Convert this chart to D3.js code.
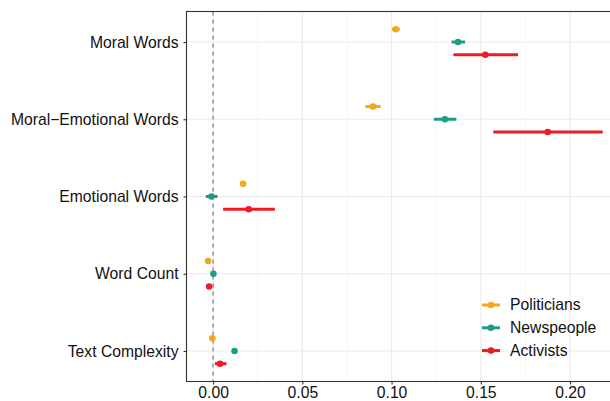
<!DOCTYPE html>
<html><head><meta charset="utf-8">
<script src="https://cdn.jsdelivr.net/npm/d3@7"></script>
<style>body{margin:0;background:#fff}svg{display:block}text{font-family:"Liberation Sans",Arial,Helvetica,sans-serif}</style>
</head><body><svg id="c" width="610" height="401"></svg>
<script>
const categories = ["Moral Words","Moral\u2212Emotional Words","Emotional Words","Word Count","Text Complexity"];
const groups = ["Politicians","Newspeople","Activists"];
const colors = ["#F2A81D","#1A9E86","#EE1C25"];
const xTicks = [0,0.05,0.10,0.15,0.20];
// estimates per category: [politicians, newspeople, activists]
const estPoliticians = [0.1024, 0.0896, 0.0168, -0.0028, -0.0004];
const loPoliticians  = [0.1002, 0.0853, 0.0152, -0.0034, -0.0010];
const hiPoliticians  = [0.1046, 0.0939, 0.0185, -0.0022, 0.0002];
const estNewspeople  = [0.1372, 0.1299, -0.0009, 0.0002, 0.0120];
const loNewspeople   = [0.1336, 0.1237, -0.0041, -0.0004, 0.0114];
const hiNewspeople   = [0.1412, 0.1363, 0.0025, 0.0008, 0.0126];
const estActivists   = [0.1525, 0.1875, 0.0200, -0.0022, 0.0039];
const loActivists    = [0.1346, 0.1570, 0.0056, -0.0030, 0.0010];
const hiActivists    = [0.1709, 0.2183, 0.0346, -0.0014, 0.0075];

const series = [
  {name: groups[0], color: colors[0], est: estPoliticians, lo: loPoliticians, hi: hiPoliticians, off: -1},
  {name: groups[1], color: colors[1], est: estNewspeople, lo: loNewspeople, hi: hiNewspeople, off: 0},
  {name: groups[2], color: colors[2], est: estActivists, lo: loActivists, hi: hiActivists, off: 1}
];

const FS = "15.7px";
const svg = d3.select("#c");
const L = 186.5, T = 11.5, R = 612, B = 381.5;
const x = d3.scaleLinear().domain([-0.0149, 0.2235]).range([L, R]);
const y = d3.scalePoint().domain(categories).range([T, B]).padding(0.395);
const dodge = 12.7;

// grid
const g = svg.append("g");
const minor = [0.025,0.075,0.125,0.175,-0.025,0.225].filter(v => x(v) > L && x(v) < R);
g.selectAll(".mg").data(minor).join("line")
  .attr("x1", d => x(d)).attr("x2", d => x(d)).attr("y1", T).attr("y2", B)
  .attr("stroke", "#F2F2F2").attr("stroke-width", 0.6);
g.selectAll(".xg").data(xTicks).join("line")
  .attr("x1", d => x(d)).attr("x2", d => x(d)).attr("y1", T).attr("y2", B)
  .attr("stroke", "#EBEBEB").attr("stroke-width", 1.1);
g.selectAll(".yg").data(categories).join("line")
  .attr("x1", L).attr("x2", R).attr("y1", d => y(d)).attr("y2", d => y(d))
  .attr("stroke", "#EBEBEB").attr("stroke-width", 1.1);

// zero line
svg.append("line").attr("x1", x(0)).attr("x2", x(0)).attr("y1", T).attr("y2", B)
  .attr("stroke", "#8F8F8F").attr("stroke-width", 1.4).attr("stroke-dasharray", "4,4");

// series
series.forEach(s => {
  const gg = svg.append("g");
  const d = categories.map((c, i) => ({c, est: s.est[i], lo: s.lo[i], hi: s.hi[i]}));
  gg.selectAll("line").data(d).join("line")
    .attr("x1", e => x(e.lo)).attr("x2", e => x(e.hi))
    .attr("y1", e => y(e.c) + s.off * dodge).attr("y2", e => y(e.c) + s.off * dodge)
    .attr("stroke", s.color).attr("stroke-width", 3);
  gg.selectAll("circle").data(d).join("circle")
    .attr("cx", e => x(e.est)).attr("cy", e => y(e.c) + s.off * dodge)
    .attr("r", 3.3).attr("fill", s.color);
});

// panel border
svg.append("rect").attr("x", L).attr("y", T).attr("width", R - L).attr("height", B - T)
  .attr("fill", "none").attr("stroke", "#333333").attr("stroke-width", 1.1);

// axes
const xa = svg.append("g").attr("transform", `translate(0,${B})`)
  .call(d3.axisBottom(x).tickValues(xTicks).tickFormat(d3.format(".2f")).tickSizeInner(3).tickSizeOuter(0).tickPadding(2));
xa.select(".domain").remove();
xa.selectAll("line").attr("stroke", "#333333").attr("stroke-width", 1.1);
xa.selectAll("text").attr("fill", "#111").style("font-size", FS);

const ya = svg.append("g").attr("transform", `translate(${L},0)`)
  .call(d3.axisLeft(y).tickSizeInner(3).tickSizeOuter(0).tickPadding(5));
ya.select(".domain").remove();
ya.selectAll("line").attr("stroke", "#333333").attr("stroke-width", 1.1);
ya.selectAll("text").attr("fill", "#111").style("font-size", FS);

// legend
const lg = svg.append("g");
series.forEach((s, i) => {
  const ly = 305 + i * 22.8;
  lg.append("line").attr("x1", 482).attr("x2", 500).attr("y1", ly).attr("y2", ly)
    .attr("stroke", s.color).attr("stroke-width", 3);
  lg.append("circle").attr("cx", 491).attr("cy", ly).attr("r", 3.3).attr("fill", s.color);
  lg.append("text").attr("x", 510).attr("y", ly).attr("dy", "0.35em")
    .style("font-size", FS).attr("fill", "#111").text(s.name);
});
</script></body></html>
